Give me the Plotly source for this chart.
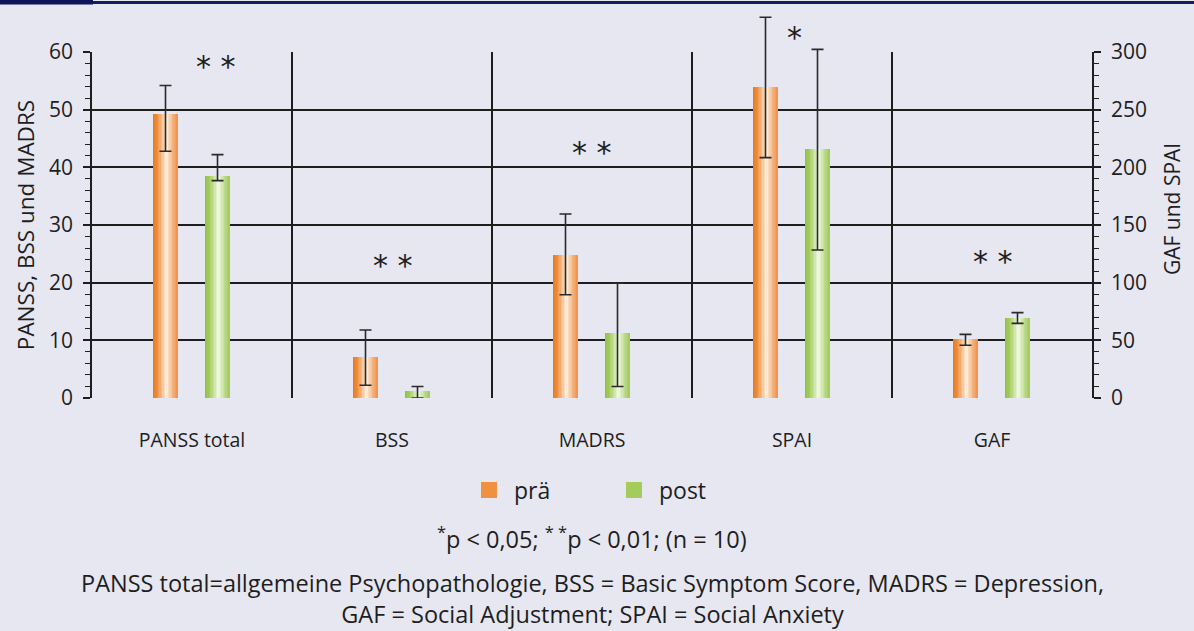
import plotly.graph_objects as go

# ---- data ----
categories = ["PANSS total", "BSS", "MADRS", "SPAI", "GAF"]
left_axis_cats = ["PANSS total", "BSS", "MADRS"]
right_axis_cats = ["SPAI", "GAF"]

pre_values = [49.2, 7.1, 24.8, 269.7, 51.2]
post_values = [38.5, 1.2, 11.3, 215.9, 69.4]
pre_err_plus = [5.0, 4.7, 7.1, 60.4, 4.0]
pre_err_minus = [6.4, 4.9, 6.9, 61.3, 5.5]
post_err_plus = [3.7, 0.8, 8.6, 86.4, 4.6]
post_err_minus = [0.8, 1.2, 9.3, 87.6, 4.7]

series_names = ["prä", "post"]
significance = ["* *", "* *", "* *", "*", "* *"]
sig_y = [58.3, 23.9, 43.4, 317.0, 122.3]        # in the axis units of each category
sig_xshift = [24, 1, 0, 2, 1]

left_title = "PANSS, BSS und MADRS"
right_title = "GAF und SPAI"
note_text = "<sup>*</sup>p < 0,05; <sup>* *</sup>p < 0,01; (n = 10)"
caption_text = ("PANSS total=allgemeine Psychopathologie, BSS = Basic Symptom Score, MADRS = Depression,"
                "<br>GAF = Social Adjustment; SPAI = Social Anxiety")

LEFT_MAX, RIGHT_MAX = 60, 300

# ---- layout geometry (pixels) ----
W, H = 1194, 631
PLOT_LEFT, PLOT_RIGHT = 92, 1092
PLOT_BOTTOM = 398
AXIS_TOP = 52
PAPER_TOP = 10
PAPER_H = PLOT_BOTTOM - PAPER_TOP
DOMAIN_TOP = (PLOT_BOTTOM - AXIS_TOP) / PAPER_H
EXT = 1 / DOMAIN_TOP      # hidden overlay axes extend above the visible axes


def py(p):
    return (PLOT_BOTTOM - p) / PAPER_H


def px(p):
    return (p - PLOT_LEFT) / (PLOT_RIGHT - PLOT_LEFT)


# ---- styling ----
BG = "#e6e7f1"
INK = "#1e1e1e"
FONT = "Open Sans"
BAR_W = 0.125
OFFSETS = [-0.195, 0.065]
N_STRIPES = 18
GRADS = [
    # left edge, highlight, right edge
    ((234, 122, 30), (255, 246, 232), (240, 144, 70)),
    ((146, 194, 66), (246, 251, 236), (158, 202, 88)),
]
LEGEND_COLORS = ["#f0913f", "#a3cc5c"]


def grad_color(stops, t):
    a, h, b = stops
    peak = 0.55
    if t <= peak:
        s = (t / peak) ** 1.6
        c = [a[k] + (h[k] - a[k]) * s for k in range(3)]
    else:
        s = ((t - peak) / (1 - peak)) ** 0.8
        c = [h[k] + (b[k] - h[k]) * s for k in range(3)]
    return "rgb(%d,%d,%d)" % tuple(int(round(v)) for v in c)


fig = go.Figure()

groups = [
    ("y", "y3", left_axis_cats, [0, 1, 2]),
    ("y2", "y4", right_axis_cats, [3, 4]),
]
series_vals = [pre_values, post_values]
series_plus = [pre_err_plus, post_err_plus]
series_minus = [pre_err_minus, post_err_minus]

for si in range(2):
    # legend entry
    fig.add_trace(go.Scatter(x=[None], y=[None], name=series_names[si], mode="markers",
                             marker=dict(symbol="square", size=20, color=LEGEND_COLORS[si]),
                             showlegend=True, hoverinfo="skip"))
    for axis, ext_axis, cats, idx in groups:
        vals = [series_vals[si][i] for i in idx]
        step = BAR_W / N_STRIPES
        for k in range(N_STRIPES):
            t = (k + 0.5) / N_STRIPES
            w = step * 1.25 if k < N_STRIPES - 1 else step
            fig.add_trace(go.Bar(
                x=cats, y=vals, yaxis=axis,
                offset=OFFSETS[si] + k * step, width=w,
                marker=dict(color=grad_color(GRADS[si], t), line=dict(width=0)),
                showlegend=False, hoverinfo="skip",
            ))
        # error bars on a hidden overlay subplot that reaches above the axes
        fig.add_trace(go.Scatter(
            x=[i + OFFSETS[si] + BAR_W / 2 for i in idx], y=vals,
            xaxis="x2", yaxis=ext_axis, mode="markers",
            marker=dict(size=1, opacity=0),
            error_y=dict(type="data", symmetric=False,
                         array=[series_plus[si][i] for i in idx],
                         arrayminus=[series_minus[si][i] for i in idx],
                         color="#2a2a2a", thickness=1.6, width=6),
            cliponaxis=False, showlegend=False, hoverinfo="skip",
        ))

annotations = []
for i, c in enumerate(categories):
    annotations.append(dict(
        x=i, y=sig_y[i], xref="x2", yref="y3" if i < 3 else "y4",
        text=significance[i], showarrow=False, xshift=sig_xshift[i], yshift=-5,
        font=dict(family="DejaVu Sans", size=30, color=INK),
    ))
annotations.append(dict(x=px(1172), y=py(209), xref="paper", yref="paper",
                        xanchor="center", yanchor="middle", text=right_title, textangle=-90,
                        showarrow=False, font=dict(family=FONT, size=21, color=INK)))
annotations.append(dict(x=0.5, y=py(537), xref="paper", yref="paper",
                        xanchor="center", yanchor="middle", text=note_text,
                        showarrow=False, font=dict(family=FONT, size=23.5, color=INK)))
annotations.append(dict(x=0.5, y=py(598.5), xref="paper", yref="paper",
                        xanchor="center", yanchor="middle", text=caption_text,
                        showarrow=False, font=dict(family=FONT, size=23.5, color=INK)))

shapes = [
    dict(type="line", xref="paper", yref="paper", x0=-0.1, x1=1.11,
         y0=py(2.5), y1=py(2.5), line=dict(color="#141c5e", width=3)),
    dict(type="rect", xref="paper", yref="paper", x0=-0.1, x1=px(93),
         y0=py(4.5), y1=py(-1), line=dict(width=0), fillcolor="#0c145a"),
]

axis_common = dict(
    showline=True, linecolor=INK, linewidth=1.5,
    ticks="outside", ticklen=7, tickwidth=1.5, tickcolor=INK,
    zeroline=False, tickfont=dict(family=FONT, size=21, color=INK),
    ticklabelstandoff=6, domain=[0, DOMAIN_TOP],
)

fig.update_layout(
    width=W, height=H,
    margin=dict(l=PLOT_LEFT, r=W - PLOT_RIGHT, t=PAPER_TOP, b=H - PLOT_BOTTOM, autoexpand=False),
    paper_bgcolor=BG, plot_bgcolor="rgba(0,0,0,0)",
    font=dict(family=FONT, color=INK),
    barmode="overlay",
    bargap=0,
    xaxis=dict(type="category", categoryorder="array", categoryarray=categories,
               range=[-0.5, 4.5], showgrid=True, gridcolor=INK, gridwidth=1.5,
               tickson="boundaries", ticks="", showline=False, zeroline=False,
               tickfont=dict(family=FONT, size=19.5, color=INK), ticklabelstandoff=28),
    xaxis2=dict(range=[-0.5, 4.5], anchor="y3", visible=False, showgrid=False, domain=[0, 1]),
    yaxis=dict(range=[0, LEFT_MAX], dtick=10, showgrid=True, gridcolor=INK, gridwidth=1.5,
               minor=dict(dtick=2, ticks="outside", ticklen=5, tickwidth=1.2,
                          tickcolor=INK, showgrid=False),
               title=dict(text=left_title, font=dict(family=FONT, size=22.5, color=INK), standoff=8),
               **axis_common),
    yaxis2=dict(range=[0, RIGHT_MAX], dtick=50, overlaying="y", side="right", showgrid=False,
                minor=dict(dtick=10, ticks="outside", ticklen=5, tickwidth=1.2,
                           tickcolor=INK, showgrid=False),
                **axis_common),
    yaxis3=dict(range=[0, LEFT_MAX * EXT], anchor="x2", domain=[0, 1], visible=False, showgrid=False),
    yaxis4=dict(range=[0, RIGHT_MAX * EXT], anchor="x2", overlaying="y3", visible=False, showgrid=False),
    legend=dict(orientation="h", x=0.517, xanchor="center", y=py(490), yanchor="middle",
                font=dict(family=FONT, size=23, color=INK), bgcolor="rgba(0,0,0,0)",
                entrywidth=90, itemwidth=40),
    annotations=annotations,
    shapes=shapes,
)

fig.write_html("out.html", config={"displayModeBar": False},
               post_script="document.body.style.margin='0';")
